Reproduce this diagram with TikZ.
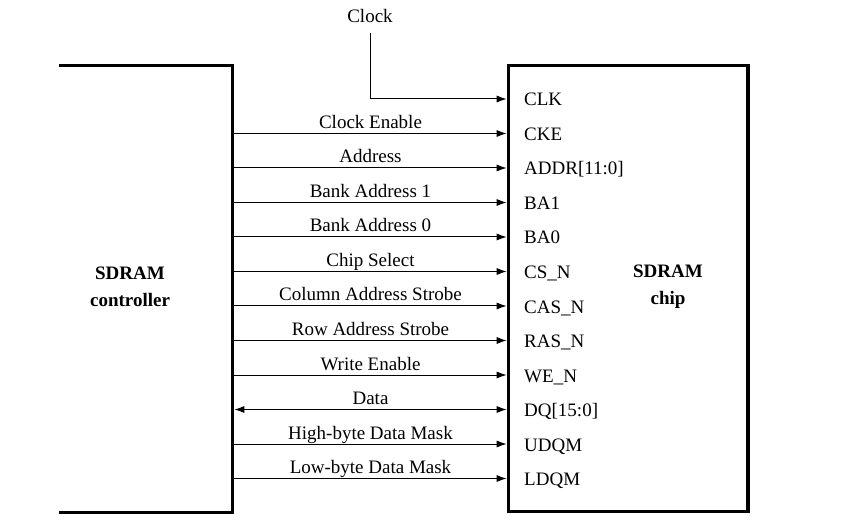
\documentclass[tikz,border=0pt]{standalone}
\usepackage{fontspec}
\setmainfont{Liberation Serif}
\usetikzlibrary{arrows.meta}

\begin{document}
\begin{tikzpicture}[x=1pt,y=-1pt,
			every node/.style={font=\fontsize{19}{27}\selectfont,inner sep=0pt},
			box/.style={line width=3.3pt},
			title/.style={font=\fontsize{19}{27}\selectfont\bfseries,align=center},
			sig/.style={line width=1pt,>={Latex[length=10pt,width=7pt]}}]
	\useasboundingbox (0,0) rectangle (846,529);
	% controller, open on the left
	\coordinate (ctrl nw) at (59.3,65.5);
	\coordinate (ctrl ne) at (232.8,65.5);
	\coordinate (ctrl se) at (232.8,512.3);
	\coordinate (ctrl sw) at (59.3,512.3);
	\draw[box] (ctrl nw) -- (ctrl ne) -- (ctrl se) -- (ctrl sw);
	\node[title] (ctrl) at (130,287) {SDRAM\\controller};
	% chip
	\coordinate (chip nw) at (508.3,65.5);
	\coordinate (chip se) at (748,511.7);
	\draw[box] (chip nw) rectangle (chip se);
	\node[title] (chip) at (668,287) {SDRAM\\chip};
	\node (clock) at (370,16) {Clock};
	\node[anchor=base west] (pin0) at (524,106) {CLK};
	\coordinate (in0) at (506.7,99);
	\draw[sig,->] ([yshift=-10pt]clock.south) |- (in0);
	\foreach \pin/\y/\sig/\tip [count=\i] in {
				CKE/133.5/Clock Enable/->,
				ADDR[11:0]/168/Address/->,
				BA1/202.5/Bank Address 1/->,
				BA0/237/Bank Address 0/->,
				CS\_N/271.5/Chip Select/->,
				CAS\_N/306/Column Address Strobe/->,
				RAS\_N/340.5/Row Address Strobe/->,
				WE\_N/375/Write Enable/->,
				DQ[15:0]/409.5/Data/<->,
				UDQM/444/High-byte Data Mask/->,
				LDQM/478.5/Low-byte Data Mask/->}
	{
		\node[anchor=base west] (pin\i) at (524,\y+7) {\pin};
		\coordinate (out\i) at (234.3,\y);
		\coordinate (in\i) at (506.7,\y);
		\draw[sig,\tip] (out\i) -- node[anchor=base,yshift=5pt] {\sig} (in\i);
	}
\end{tikzpicture}
\end{document}
